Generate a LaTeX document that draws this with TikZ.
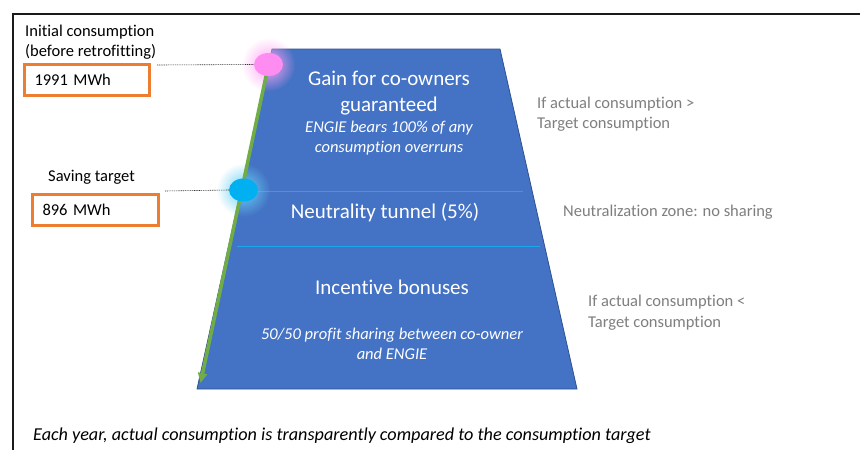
\documentclass[tikz,border=0pt]{standalone}
\usepackage{fontspec}
\setmainfont{Carlito}[Ligatures=NoCommon]
\usetikzlibrary{arrows.meta,shapes.geometric,fadings}
\definecolor{trapblue}{HTML}{4472C4}
\definecolor{trapedge}{HTML}{2F528F}
\definecolor{sepblue}{HTML}{1AA8EC}
\definecolor{arrowgreen}{HTML}{70AD47}
\definecolor{boxorange}{HTML}{ED7D31}
\definecolor{notegray}{HTML}{7F7F7F}
\definecolor{dotpink}{HTML}{FF8CF0}
\definecolor{dotcyan}{HTML}{00B0F0}
\definecolor{framegray}{HTML}{1A1A1A}
\tikzfading[name=glowfade, inner color=transparent!0, outer color=transparent!100]
\begin{document}
\begin{tikzpicture}[x=1pt,y=-1pt,
  lbl/.style={font=\fontsize{16.5}{20}\selectfont, inner sep=0pt, anchor=west, text=black},
  note/.style={font=\fontsize{16.5}{20.5}\selectfont, inner sep=0pt, anchor=west, text=notegray, align=left},
  head/.style={font=\fontsize{21}{25.5}\selectfont, inner sep=0pt, text=white, align=center},
  sub/.style={font=\fontsize{16.5}{19.5}\selectfont\itshape, inner sep=0pt, text=white, align=center},
  valbox/.style={draw=boxorange, line width=3pt, anchor=west, inner xsep=10.5pt, inner ysep=0pt,
     minimum height=31pt, font=\fontsize{16.5}{20}\selectfont},
  marker/.style={ellipse, minimum width=29pt, minimum height=23pt, inner sep=0pt},
  leader/.style={draw=black!80, line width=0.6pt, dash pattern=on 1pt off 0.8pt},
  sepline/.style={draw=sepblue, line width=0.8pt}
]
\useasboundingbox (0,0) rectangle (860,450);
\clip (0,0) rectangle (860,450);
\fill[white] (0,0) rectangle (860,450);

% frame
\draw[framegray, line width=1.6pt] (13,470) -- (13,14) -- (880,14);

% trapezoid
\draw[fill=trapblue, draw=trapedge, line width=0.8pt] (272,49) -- (500,49) -- (577,389) -- (197,389) -- cycle;
\draw[sepline] (250,191) -- (523,191);
\draw[sepline] (237,246) -- (540,246);

% coordinates
\coordinate (pinkc) at (268.5,64.5);
\coordinate (cyanc) at (243.5,190);
\coordinate (arrowend) at (200.5,383);
\coordinate (lead1) at (157,65);
\coordinate (lead2) at (165,191);

% glows
\fill[dotpink!80, path fading=glowfade] (pinkc) circle (27);
\fill[dotcyan!60, path fading=glowfade] (cyanc) circle (27);

% green arrow
\draw[arrowgreen, line width=3.5pt, -{Triangle[length=10pt,width=9pt]}] (pinkc) -- (arrowend);

% markers
\node[marker, fill=dotpink] (pink) at (pinkc) {};
\node[marker, fill=dotcyan] (cyan) at (cyanc) {};

% leaders
\draw[leader] (lead1) -- (pink.west);
\draw[leader] (lead2) -- (cyan.west);

% left labels
\node[lbl] (init1) at (25,32) {Initial consumption};
\node[lbl] (init2) at (25,52) {(before retrofitting)};
\node[valbox, text width=104pt] (val1) at (22.5,80) {1991 MWh};
\node[lbl] (save) at (48,177) {Saving target};
\node[valbox, text width=105pt] (val2) at (30.5,209.5) {896 MWh};

% trapezoid texts
\node[head] (gain) at (389,93) {Gain for co-owners\\guaranteed};
\node[sub] (engie) at (389,138) {ENGIE bears 100\% of any\\consumption overruns};
\node[head] (neutral) at (385,213) {Neutrality tunnel (5\%)};
\node[head] (bonus) at (392,287) {Incentive bonuses};
\node[sub] (share) at (392,344) {50/50 profit sharing between co-owner\\and ENGIE};

% right notes
\node[note] (over) at (537,114) {If actual consumption >\\Target consumption};
\node[note] (zone) at (563,212) {Neutralization zone: no sharing};
\node[note] (under) at (588,312.5) {If actual consumption <\\Target consumption};

% bottom
\node[lbl, font=\fontsize{18.2}{21}\selectfont\itshape] (foot) at (33,436) {Each year, actual consumption is transparently compared to the consumption target};
\end{tikzpicture}
\end{document}
